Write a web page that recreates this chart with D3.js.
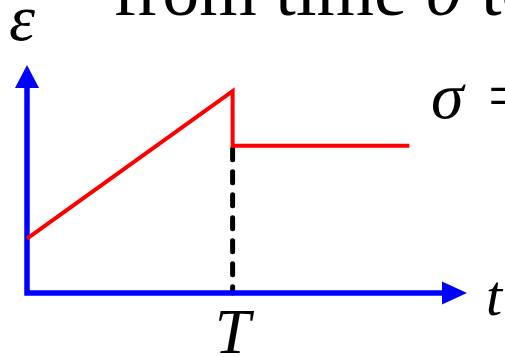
<!DOCTYPE html>
<html>
<head>
<meta charset="utf-8">
<script src="https://cdn.jsdelivr.net/npm/d3@7"></script>
<style>
  html, body { margin: 0; padding: 0; background: #fff; overflow: hidden; }
  text { font-family: "Liberation Serif", "Times New Roman", serif; }
</style>
</head>
<body>
<div id="chart_div"></div>
<script>
// strain history: ramp up to T, sudden drop, then constant
const times = [0, 1, 1, 1.86];
const strain = [0.27, 1.0, 0.73, 0.73];
const tickTimes = [1];
const tickLabels = ["T"];
const axisMax = [2.14, 1.13]; // t, epsilon
const axisLabels = ["t", "\u03b5"];

const width = 505;
const height = 357;

const svg = d3.select("#chart_div")
    .append("svg")
    .attr("width", width)
    .attr("height", height);

const x = d3.scaleLinear()
    .domain([0, axisMax[0]])
    .range([27, 467]);

const y = d3.scaleLinear()
    .domain([0, axisMax[1]])
    .range([293, 65]);

const blue = "#0000ff";

// title fragment cut off at the top
svg.append("text")
    .attr("x", 113)
    .attr("y", 15)
    .attr("font-size", 74)
    .attr("fill", "#000")
    .text("from time ")
    .append("tspan")
    .attr("font-style", "italic")
    .text("0")
    .append("tspan")
    .attr("font-style", "normal")
    .text(" to T");

// dashed drop line at T
svg.append("line")
    .attr("x1", x(tickTimes[0]))
    .attr("x2", x(tickTimes[0]))
    .attr("y1", y(strain[2]) + 3)
    .attr("y2", y(0))
    .attr("stroke", "#000")
    .attr("stroke-width", 5)
    .attr("stroke-linecap", "round")
    .attr("stroke-dasharray", "11 12");

// axes
svg.append("path")
    .attr("d", `M${x(0)},${y(axisMax[1]) + 22} L${x(0)},${y(0)} L${x(axisMax[0]) - 24},${y(0)}`)
    .attr("fill", "none")
    .attr("stroke", blue)
    .attr("stroke-width", 5.5)
    .attr("stroke-linejoin", "miter")
    .attr("stroke-linecap", "square");

svg.append("path")
    .attr("d", `M${x(0)},${y(axisMax[1])} L${x(0) - 12},${y(axisMax[1]) + 23} L${x(0) + 12},${y(axisMax[1]) + 23} Z`)
    .attr("fill", blue);

svg.append("path")
    .attr("d", `M${x(axisMax[0])},${y(0)} L${x(axisMax[0]) - 25},${y(0) - 11.5} L${x(axisMax[0]) - 25},${y(0) + 11.5} Z`)
    .attr("fill", blue);

// strain curve
const line = d3.line()
    .x((d, i) => x(times[i]))
    .y((d) => y(d));

svg.append("path")
    .datum(strain)
    .attr("d", line)
    .attr("fill", "none")
    .attr("stroke", "#ff0000")
    .attr("stroke-width", 4)
    .attr("stroke-linejoin", "miter");

// tick label T
svg.selectAll(".tick-label")
    .data(tickTimes)
    .enter()
    .append("text")
    .attr("class", "tick-label")
    .attr("x", (d) => x(d))
    .attr("y", 353)
    .attr("text-anchor", "middle")
    .attr("font-size", 64)
    .attr("font-style", "italic")
    .text((d, i) => tickLabels[i]);

// axis labels
svg.append("text")
    .attr("x", 486)
    .attr("y", 315)
    .attr("font-size", 58)
    .attr("font-style", "italic")
    .text(axisLabels[0]);

svg.append("text")
    .attr("x", 9)
    .attr("y", 40)
    .attr("font-size", 66)
    .attr("font-style", "italic")
    .text(axisLabels[1]);

// sigma = (cut off at the right)
svg.append("text")
    .attr("x", 431)
    .attr("y", 118)
    .attr("font-size", 66)
    .append("tspan")
    .attr("font-style", "italic")
    .text("\u03c3")
    .append("tspan")
    .attr("font-style", "normal")
    .attr("dx", 8)
    .text(" =");
</script>
</body>
</html>
